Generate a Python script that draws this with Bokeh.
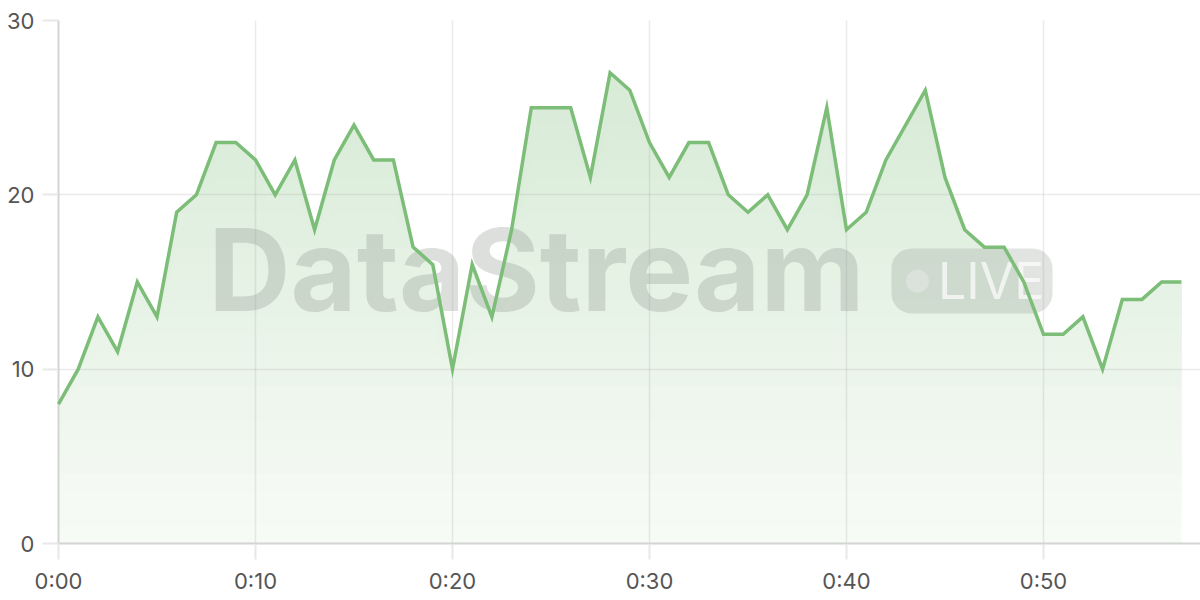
import numpy as np
from bokeh.models import Range1d, FixedTicker, Label, BoxAnnotation
from bokeh.plotting import figure
from bokeh.embed import file_html
from bokeh.resources import INLINE

# one reading per minute
minutes = list(range(58))
values = [8, 10, 13, 11, 15, 13, 19, 20, 23, 23,
          22, 20, 22, 18, 22, 24, 22, 22, 17, 16,
          10, 16, 13, 18, 25, 25, 25, 21, 27, 26,
          23, 21, 23, 23, 20, 19, 20, 18, 20, 25,
          18, 19, 22, 24, 26, 21, 18, 17, 17, 15,
          12, 12, 13, 10, 14, 14, 15, 15]

x_ticks = [0, 10, 20, 30, 40, 50]
x_tick_labels = ["0:00", "0:10", "0:20", "0:30", "0:40", "0:50"]
y_ticks = [0, 10, 20, 30]

green = "#7cbd78"
label_font = "Inter"
fade_bottom = np.array([248, 251, 247])
fade_top = np.array([211, 233, 210])

p = figure(width=1200, height=600, output_backend="svg", toolbar_location=None,
           x_range=Range1d(0, 57.97), y_range=Range1d(0, 30),
           min_border_left=58, min_border_right=0, min_border_top=20, min_border_bottom=57)
p.outline_line_color = None
p.background_fill_color = "white"
p.border_fill_color = "white"

# area with a vertical fade: opaque layers, each reaching up to the line
vals = np.array(values, dtype=float)
for k in range(0, 28):
    t = (k + 0.5) / 30
    c = np.round(fade_bottom + (fade_top - fade_bottom) * t).astype(int)
    p.varea(x=minutes, y1=np.minimum(vals, k), y2=vals,
            fill_color="#%02x%02x%02x" % tuple(c))

# watermark
wm = Label(x=7.6, y=15.7, text="DataStream", text_font=label_font, text_font_style="bold",
           text_font_size="114px", text_color="#8f958f", text_alpha=0.3,
           text_baseline="alphabetic", text_align="left")
p.add_layout(wm)
badge = BoxAnnotation(left=42.28, right=50.46, bottom=13.2, top=16.92, border_radius=20,
                      fill_color="#8f958f", fill_alpha=0.26, line_color=None)
p.add_layout(badge)
dot = p.scatter(x=[43.6], y=[15.05], size=23, marker="circle", fill_color="white",
                fill_alpha=0.65, line_color=None)
dot.level = "annotation"
live = Label(x=44.65, y=15.05, text="LIVE", text_font=label_font, text_font_size="50px",
             text_color="white", text_alpha=0.68, text_baseline="middle", text_align="left")
p.add_layout(live)

r = p.line(minutes, values, line_color=green, line_width=3.5, line_join="miter")
r.level = "overlay"

p.xaxis.ticker = FixedTicker(ticks=x_ticks)
p.xaxis.major_label_overrides = dict(zip(x_ticks, x_tick_labels))
p.yaxis.ticker = FixedTicker(ticks=y_ticks)

for ax in (p.xaxis[0], p.yaxis[0]):
    ax.axis_line_color = "#d4d4d4"
    ax.axis_line_width = 2
    ax.major_tick_line_color = "#e8e8e8"
    ax.major_tick_line_width = 2
    ax.major_tick_out = 16
    ax.major_tick_in = 0
    ax.minor_tick_line_color = None
    ax.major_label_text_font = label_font
    ax.major_label_text_font_size = "22px"
    ax.major_label_text_color = "#555555"
    ax.major_label_standoff = 8

# grid over the fill so it shows through, as in the original
for g in (p.xgrid[0], p.ygrid[0]):
    g.grid_line_color = "#9a9a9a"
    g.grid_line_alpha = 0.2
    g.grid_line_width = 1.5
    g.level = "annotation"

open("out.html", "w").write(file_html(p, INLINE))
